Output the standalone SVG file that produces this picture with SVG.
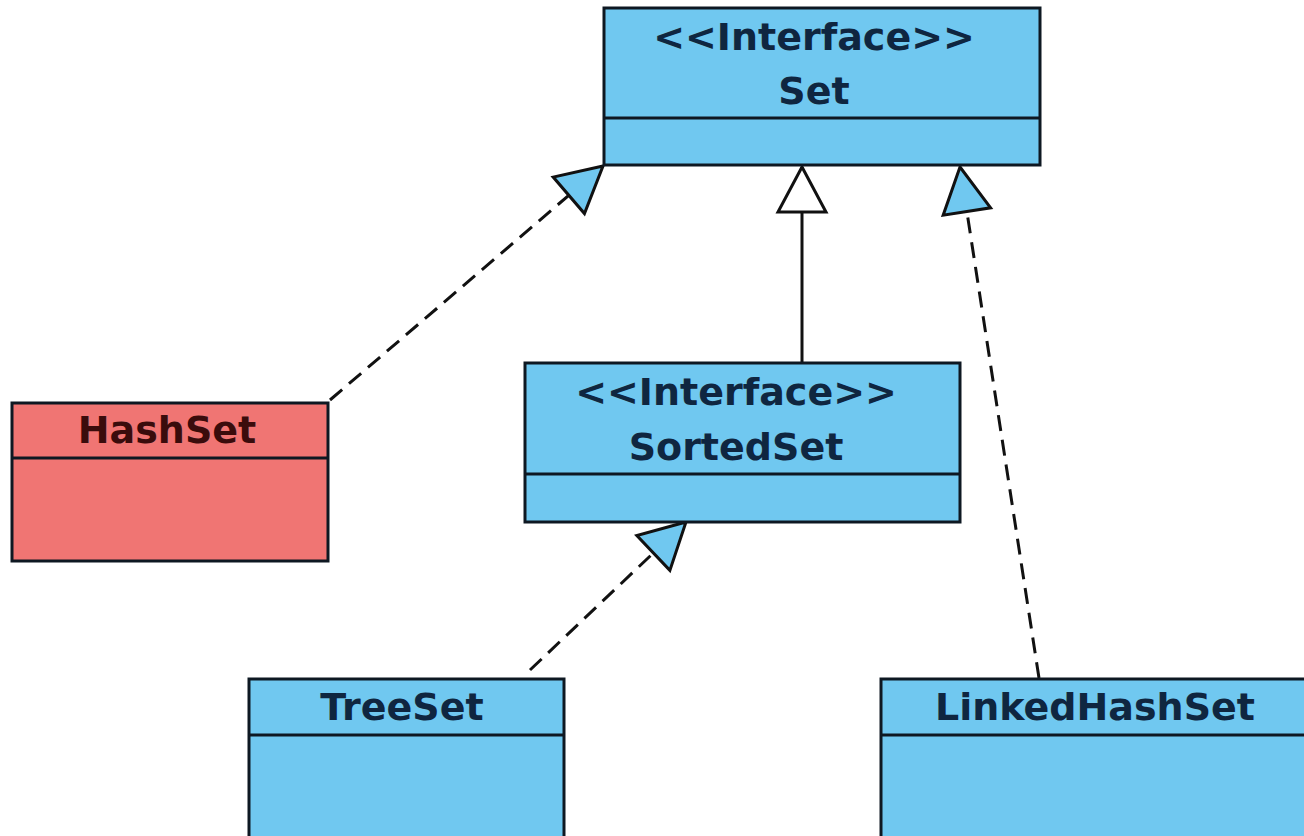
<svg xmlns="http://www.w3.org/2000/svg" width="1304" height="836" viewBox="0 0 1304 836">
<style>
.box{stroke:#0e1822;stroke-width:3}
.blue{fill:#70c8f0}
.red{fill:#f07573}
.t{font-family:"DejaVu Sans","Liberation Sans",sans-serif;font-weight:bold;font-size:38px;text-anchor:middle;fill:#0f2640}
.tr{fill:#3a0c0c}
.edge{fill:none;stroke:#111;stroke-width:3}
.dash{stroke-dasharray:16 9}
</style>
<defs>
<marker id="triB" markerUnits="userSpaceOnUse" viewBox="-50 -28 54 56" markerWidth="54" markerHeight="56" refX="0" refY="0" orient="auto">
<path d="M0,0 L-45,-24 L-45,24 Z" fill="#70c8f0" stroke="#111" stroke-width="3" stroke-linejoin="miter"/>
</marker>
<marker id="triW" markerUnits="userSpaceOnUse" viewBox="-50 -28 54 56" markerWidth="54" markerHeight="56" refX="0" refY="0" orient="auto">
<path d="M0,0 L-45,-24 L-45,24 Z" fill="#ffffff" stroke="#111" stroke-width="3" stroke-linejoin="miter"/>
</marker>
</defs>
<rect width="1304" height="836" fill="#ffffff"/>
<g id="connectors">
<line class="edge dash" x1="330" y1="400" x2="603" y2="166" marker-end="url(#triB)"/>
<line class="edge" x1="802" y1="362" x2="802" y2="167" marker-end="url(#triW)"/>
<line class="edge dash" x1="1039" y1="678" x2="960" y2="167" marker-end="url(#triB)"/>
<line class="edge dash" x1="530" y1="670" x2="686" y2="522" marker-end="url(#triB)"/>
</g>
<g id="Set">
<rect class="box blue" x="604" y="8" width="436" height="157"/>
<line class="box" x1="604" y1="118" x2="1040" y2="118"/>
<text class="t" x="814" y="50">&lt;&lt;Interface&gt;&gt;</text>
<text class="t" x="814" y="104">Set</text>
</g>
<g id="HashSet">
<rect class="box red" x="12" y="403" width="316" height="158"/>
<line class="box" x1="12" y1="458" x2="328" y2="458"/>
<text class="t tr" x="167" y="443">HashSet</text>
</g>
<g id="SortedSet">
<rect class="box blue" x="525" y="363" width="435" height="159"/>
<line class="box" x1="525" y1="474" x2="960" y2="474"/>
<text class="t" x="736" y="405">&lt;&lt;Interface&gt;&gt;</text>
<text class="t" x="736" y="460">SortedSet</text>
</g>
<g id="TreeSet">
<rect class="box blue" x="249" y="679" width="315" height="180"/>
<line class="box" x1="249" y1="735" x2="564" y2="735"/>
<text class="t" x="402" y="720">TreeSet</text>
</g>
<g id="LinkedHashSet">
<rect class="box blue" x="881" y="679" width="440" height="180"/>
<line class="box" x1="881" y1="735" x2="1321" y2="735"/>
<text class="t" x="1095" y="720">LinkedHashSet</text>
</g>
</svg>
